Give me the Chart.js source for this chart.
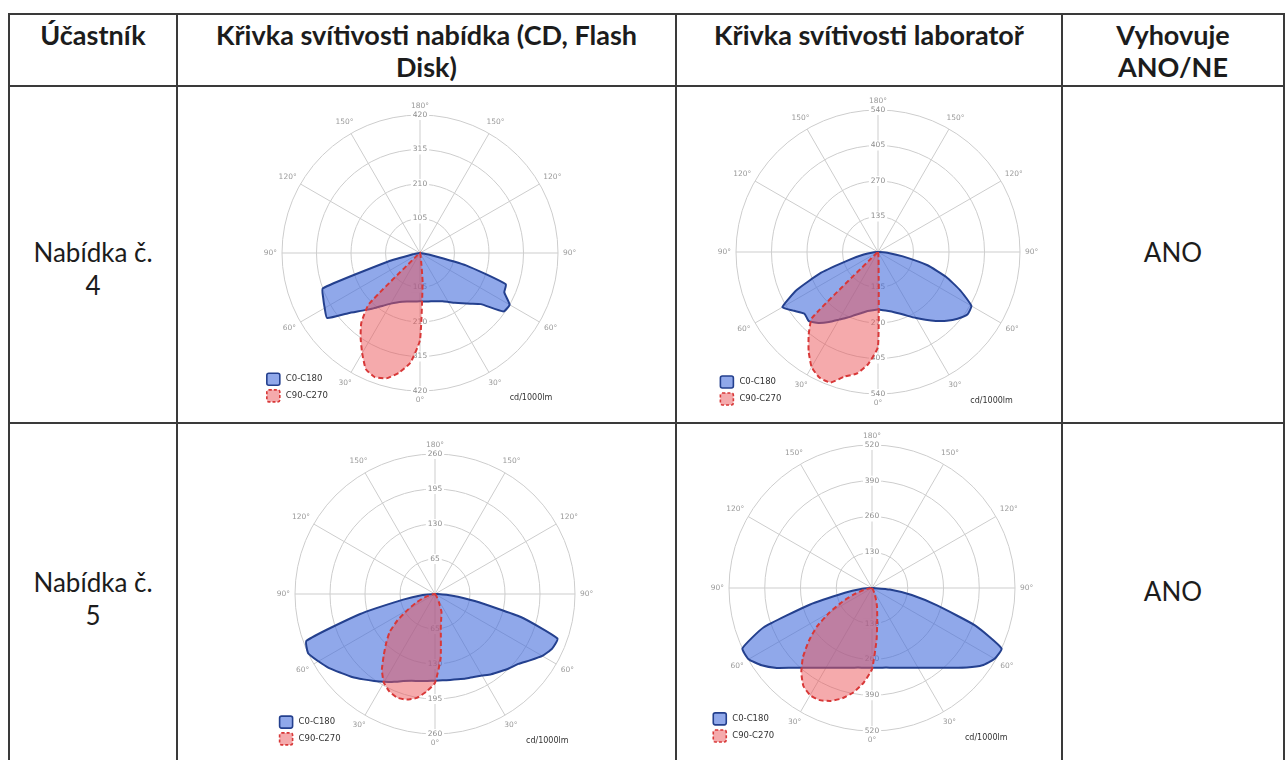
<!DOCTYPE html>
<html><head><meta charset="utf-8">
<script src="https://cdn.jsdelivr.net/npm/chart.js@4"></script>
<style>
html,body{margin:0;padding:0;background:#fff;width:1287px;height:760px;overflow:hidden;font-family:Lato,"Open Sans",sans-serif;color:#1c1c1c;}
.hl{position:absolute;height:2px;background:#3a3a3a;}
.vl{position:absolute;width:2px;background:#3a3a3a;}
.t{position:absolute;text-align:center;font-size:26px;line-height:33px;}
.b{font-weight:bold;font-size:27px;line-height:32px;}
canvas{position:absolute;}
</style></head><body>
<div class="hl" style="left:8px;top:13px;width:1277px"></div>
<div class="hl" style="left:8px;top:85px;width:1277px"></div>
<div class="hl" style="left:8px;top:422px;width:1277px"></div>
<div class="vl" style="left:8px;top:13px;height:760px"></div>
<div class="vl" style="left:176px;top:13px;height:760px"></div>
<div class="vl" style="left:675px;top:13px;height:760px"></div>
<div class="vl" style="left:1061px;top:13px;height:760px"></div>
<div class="vl" style="left:1283px;top:13px;height:760px"></div>

<div class="t b" style="left:9px;width:168px;top:19px">Účastník</div>
<div class="t b" style="left:177px;width:499px;top:19px">Křivka svítivosti nabídka (CD, Flash<br>Disk)</div>
<div class="t b" style="left:676px;width:386px;top:19px">Křivka svítivosti laboratoř</div>
<div class="t b" style="left:1062px;width:222px;top:19px">Vyhovuje<br>ANO/NE</div>

<div class="t" style="left:9px;width:168px;top:236px">Nabídka č.<br>4</div>
<div class="t" style="left:1062px;width:222px;top:236px">ANO</div>
<div class="t" style="left:9px;width:168px;top:566px">Nabídka č.<br>5</div>
<div class="t" style="left:1062px;width:222px;top:575px">ANO</div>

<canvas id="c1" width="360" height="340"></canvas>
<canvas id="c2" width="360" height="340"></canvas>
<canvas id="c3" width="360" height="340"></canvas>
<canvas id="c4" width="360" height="340"></canvas>

<script>
// Gamma angles 0..180 step 5 for each half-plane (cd/1000lm)
// Offer 4 - CD (max 420)
const offer4CdC0   = [147,148,150,152,156,162,172,185,200,218,242,310,315,283,278,145,30,5,0, 0,0,0,0,0,0,0,0,0,0,0,0,0,0,0,0,0,0];
const offer4CdC180 = [147,148,150,153,158,166,178,196,220,248,285,345,335,325,315,100,20,5,0, 0,0,0,0,0,0,0,0,0,0,0,0,0,0,0,0,0,0];
const offer4CdC90  = [265,90,15,5,0,0,0,0,0,0,0,0,0,0,0,0,0,0,0, 0,0,0,0,0,0,0,0,0,0,0,0,0,0,0,0,0,0];
const offer4CdC270 = [265,335,370,395,402,390,352,315,278,220,10,0,0,0,0,0,0,0,0, 0,0,0,0,0,0,0,0,0,0,0,0,0,0,0,0,0,0];
// Offer 4 - laboratory (max 540)
const offer4LabC0   = [219,222,228,237,250,268,290,315,342,370,395,415,410,345,275,195,96,40,5, 0,0,0,0,0,0,0,0,0,0,0,0,0,0,0,0,0,0];
const offer4LabC180 = [219,222,228,240,255,275,297,325,352,372,365,390,420,340,230,111,55,20,0, 0,0,0,0,0,0,0,0,0,0,0,0,0,0,0,0,0,0];
const offer4LabC90  = [360,25,5,0,0,0,0,0,0,0,0,0,0,0,0,0,0,0,0, 0,0,0,0,0,0,0,0,0,0,0,0,0,0,0,0,0,0];
const offer4LabC270 = [360,428,470,490,528,527,505,460,410,355,10,0,0,0,0,0,0,0,0, 0,0,0,0,0,0,0,0,0,0,0,0,0,0,0,0,0,0];
// Offer 5 - CD (max 260)
const offer5CdC0   = [161,161,162,164,167,170,175,182,188,195,202,215,230,240,242,165,75,30,5, 0,0,0,0,0,0,0,0,0,0,0,0,0,0,0,0,0,0];
const offer5CdC180 = [161,162,164,167,172,180,188,197,207,218,228,240,250,260,254,145,60,25,0, 0,0,0,0,0,0,0,0,0,0,0,0,0,0,0,0,0,0];
const offer5CdC90  = [165,120,62,45,35,18,8,3,0,0,0,0,0,0,0,0,0,0,0, 0,0,0,0,0,0,0,0,0,0,0,0,0,0,0,0,0,0];
const offer5CdC270 = [165,182,196,203,205,200,190,172,148,128,110,85,58,40,25,12,5,0,0, 0,0,0,0,0,0,0,0,0,0,0,0,0,0,0,0,0,0];
// Offer 5 - laboratory (max 520)
const offer5LabC0   = [290,291,294,300,309,320,335,354,378,410,450,490,515,520,400,245,147,65,5, 0,0,0,0,0,0,0,0,0,0,0,0,0,0,0,0,0,0];
const offer5LabC180 = [290,291,294,300,309,320,335,354,378,410,452,490,518,520,420,235,100,40,5, 0,0,0,0,0,0,0,0,0,0,0,0,0,0,0,0,0,0];
const offer5LabC90  = [295,190,110,70,40,20,8,2,0,0,0,0,0,0,0,0,0,0,0, 0,0,0,0,0,0,0,0,0,0,0,0,0,0,0,0,0,0];
const offer5LabC270 = [295,345,385,415,437,450,450,435,400,355,300,245,178,120,75,40,18,5,0, 0,0,0,0,0,0,0,0,0,0,0,0,0,0,0,0,0,0];

const scaleMax  = [420, 540, 260, 520];
const scaleStep = [105, 135, 65, 130];
const legendLabels = ['C0-C180', 'C90-C270'];
const unitLabel = 'cd/1000lm';

// Radar spokes every 5°, clockwise from top (gamma 180) down right side to 0, then up the left side
const gammaLabels = [];
for (let i = 0; i < 72; i++) { const phi = i * 5; gammaLabels.push((phi <= 180 ? 180 - phi : phi - 180) + '°'); }
function toRadar(right, left) {
  const out = [];
  for (let i = 0; i < 72; i++) out.push(i <= 36 ? right[36 - i] : left[i - 36]);
  return out;
}

const BLUE_FILL = 'rgba(70,110,220,0.6)', BLUE_LINE = '#24408e';
const RED_FILL = 'rgba(235,85,90,0.5)', RED_LINE = '#d83838';
const FONT = '"DejaVu Sans", Verdana, sans-serif';

const polarDecor = {
  id: 'polarDecor',
  beforeDatasetsDraw(chart) {
    const s = chart.scales.r, ctx = chart.ctx;
    ctx.save();
    ctx.font = '7.5px ' + FONT;
    ctx.textAlign = 'center'; ctx.textBaseline = 'middle';
    s.ticks.forEach(t => {
      if (t.value === 0) return;
      const d = s.getDistanceFromCenterForValue(t.value);
      const txt = String(t.value);
      const w = ctx.measureText(txt).width;
      [s.yCenter - d, s.yCenter + d].forEach(y => {
        ctx.fillStyle = '#fff';
        ctx.fillRect(s.xCenter - w / 2 - 2, y - 5, w + 4, 10);
        ctx.fillStyle = '#8c8c8c';
        ctx.fillText(txt, s.xCenter, y);
      });
    });
    // angle labels every 30°
    const R = s.drawingArea;
    ctx.fillStyle = '#9a9a9a';
    for (let i = 0; i < chart.data.labels.length; i += 6) {
      const a = s.getIndexAngle(i) - Math.PI / 2;
      const txt = chart.data.labels[i];
      const w = ctx.measureText(txt).width, h = 8;
      const off = R + 5 + Math.abs(Math.cos(a)) * w / 2 + Math.abs(Math.sin(a)) * h / 2;
      ctx.fillText(txt, s.xCenter + Math.cos(a) * off, s.yCenter + Math.sin(a) * off);
    }
    ctx.restore();
  },
  afterDraw(chart) {
    const s = chart.scales.r, ctx = chart.ctx, R = s.drawingArea;
    const cx = s.xCenter, cy = s.yCenter;
    ctx.save();
    const bx = cx - 1.11 * R;
    const rows = [cy + 0.915 * R, cy + 1.035 * R];
    const styles = [[BLUE_FILL, BLUE_LINE, []], [RED_FILL, RED_LINE, [3, 2]]];
    rows.forEach((y, k) => {
      ctx.beginPath();
      if (ctx.roundRect) ctx.roundRect(bx, y - 6, 13, 12, 2); else ctx.rect(bx, y - 6, 13, 12);
      ctx.fillStyle = styles[k][0]; ctx.fill();
      ctx.setLineDash(styles[k][2]); ctx.lineWidth = 1.6; ctx.strokeStyle = styles[k][1]; ctx.stroke();
      ctx.setLineDash([]);
      ctx.fillStyle = '#333'; ctx.font = '8.5px ' + FONT; ctx.textAlign = 'left'; ctx.textBaseline = 'middle';
      ctx.fillText(legendLabels[k], bx + 19, y);
    });
    ctx.font = '8px ' + FONT; ctx.fillStyle = '#333';
    ctx.fillText(unitLabel, cx + 0.65 * R, cy + 1.05 * R);
    ctx.restore();
  }
};

function makeChart(id, cx, cy, R, k, right0, left180, right90, left270) {
  const el = document.getElementById(id);
  el.style.left = (cx - 180) + 'px';
  el.style.top = (cy - 165) + 'px';
  new Chart(el, {
    type: 'radar',
    data: {
      labels: gammaLabels,
      datasets: [
        { label: legendLabels[0], data: toRadar(right0, left180), backgroundColor: BLUE_FILL, borderColor: BLUE_LINE,
          borderWidth: 2, pointRadius: 0, pointHoverRadius: 0, fill: true, tension: 0.15, order: 1 },
        { label: legendLabels[1], data: toRadar(right90, left270), backgroundColor: RED_FILL, borderColor: RED_LINE,
          borderWidth: 2, borderDash: [5, 3], pointRadius: 0, pointHoverRadius: 0, fill: true, tension: 0.15, order: 0 }
      ]
    },
    options: {
      responsive: false, animation: false, devicePixelRatio: 1,
      layout: { padding: { left: 180 - R, right: 180 - R, top: 165 - R, bottom: 175 - R } },
      plugins: { legend: { display: false }, tooltip: { enabled: false } },
      scales: {
        r: {
          min: 0, max: scaleMax[k], startAngle: 0,
          ticks: { display: false, stepSize: scaleStep[k] },
          pointLabels: { display: false },
          grid: { circular: true, color: '#cdcdcd', lineWidth: 1 },
          angleLines: { color: '#cdcdcd', lineWidth: c => (c.index !== undefined && c.index % 6 === 0) ? 1 : 0 }
        }
      }
    },
    plugins: [polarDecor]
  });
}

makeChart('c1', 420, 253, 138, 0, offer4CdC0, offer4CdC180, offer4CdC90, offer4CdC270);
makeChart('c2', 878, 252, 142, 1, offer4LabC0, offer4LabC180, offer4LabC90, offer4LabC270);
makeChart('c3', 435, 594, 140, 2, offer5CdC0, offer5CdC180, offer5CdC90, offer5CdC270);
makeChart('c4', 872, 588, 143, 3, offer5LabC0, offer5LabC180, offer5LabC90, offer5LabC270);
</script>
</body></html>
